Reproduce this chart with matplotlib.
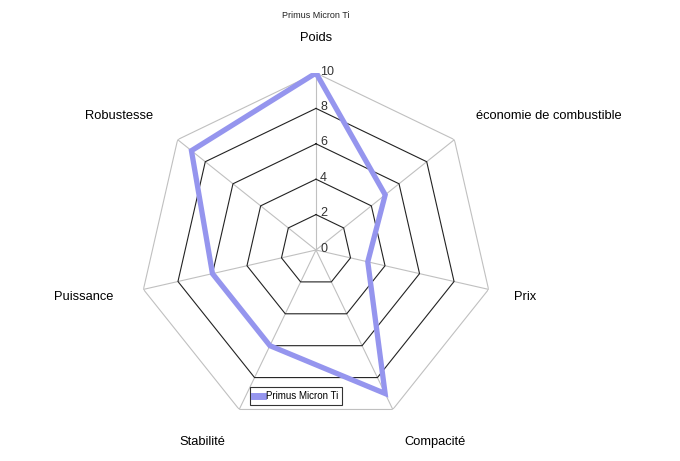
import numpy as np
import matplotlib
matplotlib.use("Agg")
import matplotlib.pyplot as plt

plt.rcParams['font.family'] = ['Liberation Sans', 'DejaVu Sans']

# data
categories = ['Poids', 'économie de combustible', 'Prix', 'Compacité',
              'Stabilité', 'Puissance', 'Robustesse']
values = [10, 5, 3, 9, 6, 6, 9]
rings = [2, 4, 6, 8, 10]
series_name = 'Primus Micron Ti'

n = len(categories)
theta = np.arange(n) * 2 * np.pi / n
theta_c = np.append(theta, theta[0])

fig = plt.figure(figsize=(6.8, 4.61), dpi=100)
# axes centred on the plot centre, radius 177 px
ax = fig.add_axes([139 / 680, 34 / 461, 354 / 680, 354 / 461], projection='polar')
ax.set_theta_offset(np.pi / 2)
ax.set_theta_direction(-1)
ax.set_ylim(0, 10)
ax.grid(False)
ax.spines['polar'].set_visible(False)
ax.set_xticks([])
ax.set_yticks([])
ax.patch.set_alpha(0)

# spokes
for t in theta:
    ax.plot([t, t], [0, 10], color='#c0c0c0', lw=0.8, zorder=1)

# heptagon rings
for r in rings:
    col = '#c0c0c0' if r == 10 else '#222222'
    ax.plot(theta_c, [r] * (n + 1), color=col, lw=0.8, zorder=2)

# tick labels along the top spoke
for r in [0] + rings:
    ax.annotate(str(r), xy=(0, r), xytext=(3, 1), textcoords='offset points',
                ha='left', va='center', fontsize=9, color='#333333')

# series
vals_c = values + values[:1]
ax.plot(theta_c, vals_c, color='#9595ee', lw=3.8, label=series_name,
        solid_joinstyle='miter', zorder=5)

# category labels (theta in degrees clockwise from top, radius in data units)
label_theta = [0, 60.1, 102.7, 148.2, 210.7, 258.5, 304.2]
label_r = [11.98, 15.19, 12.1, 12.76, 12.6, 13.37, 13.46]
for name, lt, lr in zip(categories, label_theta, label_r):
    ax.text(np.deg2rad(lt), lr, name, ha='center', va='center', fontsize=9.3,
            color='black', clip_on=False)

fig.text(316 / 680, 1 - 15 / 461, series_name, ha='center', va='center',
         fontsize=6.5, color='#222222')

leg = ax.legend(loc='center', bbox_to_anchor=(296 / 680, 1 - 396 / 461),
                bbox_transform=fig.transFigure, fontsize=7, frameon=True,
                fancybox=False, handlelength=0.9, handletextpad=0.3,
                borderpad=0.4, borderaxespad=0)
leg.get_frame().set_edgecolor('black')
leg.get_frame().set_linewidth(0.8)
leg.get_lines()[0].set_linewidth(5)

fig.savefig('out.png', dpi=100)
